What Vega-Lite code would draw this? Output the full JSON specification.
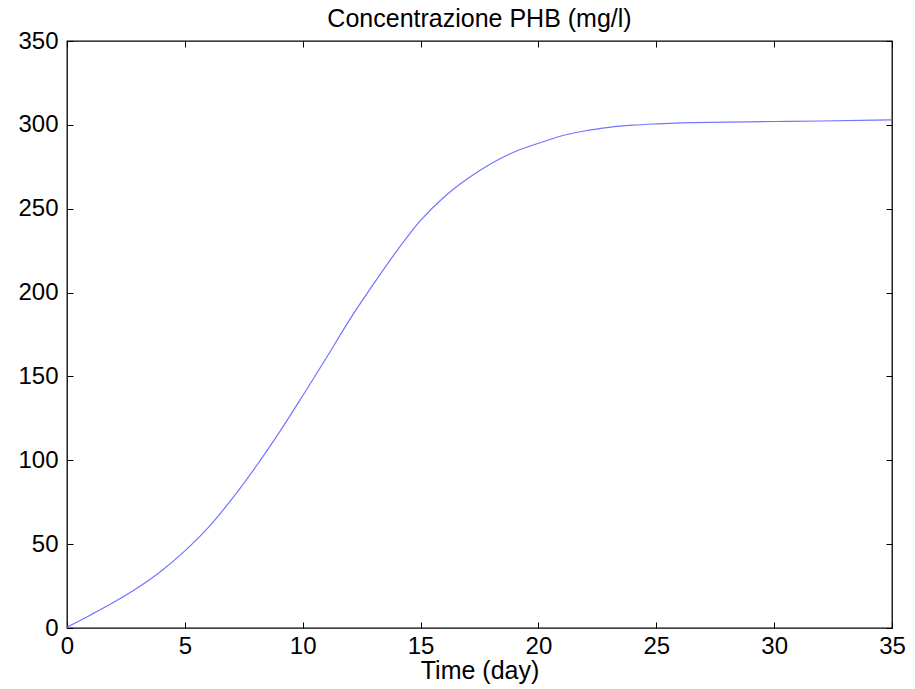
{
  "$schema": "https://vega.github.io/schema/vega-lite/v6.json",
  "width": 825,
  "height": 587,
  "autosize": {"type": "none"},
  "padding": {"left": 67, "top": 41, "right": 23, "bottom": 61},
  "background": "white",
  "title": {"text": "Concentrazione PHB (mg/l)", "font": "Liberation Sans", "fontSize": 25, "fontWeight": "normal", "color": "#000000", "offset": -3},
  "config": {
    "view": {"stroke": "#000000", "strokeWidth": 1.3},
    "axis": {"grid": false, "labelFlush": false, "domainColor": "#000000", "tickColor": "#000000", "labelColor": "#000000", "labelFont": "Liberation Sans", "labelFontSize": 24, "titleFont": "Liberation Sans", "titleFontSize": 25, "titleFontWeight": "normal", "titleColor": "#000000"}
  },
  "data": {"values": [
    {"t": 0, "c": 0.5}, {"t": 1, "c": 7.8}, {"t": 2, "c": 15.5}, {"t": 3, "c": 24}, {"t": 4, "c": 34},
    {"t": 5, "c": 46}, {"t": 6, "c": 60}, {"t": 7, "c": 77}, {"t": 8, "c": 96}, {"t": 9, "c": 116.5},
    {"t": 10, "c": 138.5}, {"t": 11, "c": 161}, {"t": 12, "c": 184}, {"t": 13, "c": 205}, {"t": 14, "c": 225},
    {"t": 15, "c": 243}, {"t": 16, "c": 257}, {"t": 17, "c": 268}, {"t": 18, "c": 277}, {"t": 19, "c": 284},
    {"t": 20, "c": 289}, {"t": 21, "c": 293.5}, {"t": 22, "c": 296.5}, {"t": 23, "c": 298.5}, {"t": 24, "c": 299.8},
    {"t": 25, "c": 300.6}, {"t": 26, "c": 301.2}, {"t": 28, "c": 301.6}, {"t": 30, "c": 302}, {"t": 32, "c": 302.3}, {"t": 35, "c": 303}
  ]},
  "layer": [
    {
      "mark": {"type": "line", "color": "#7474ff", "strokeWidth": 1.2, "interpolate": "monotone"},
      "encoding": {
        "x": {"field": "t", "type": "quantitative", "scale": {"domain": [0, 35], "nice": false}, "axis": {"title": "Time (day)", "values": [0,5,10,15,20,25,30,35], "tickSize": -6, "labelPadding": 12, "titlePadding": 0, "domain": false}},
        "y": {"field": "c", "type": "quantitative", "scale": {"domain": [0, 350], "nice": false}, "axis": {"title": null, "values": [0,50,100,150,200,250,300,350], "tickSize": -6, "labelPadding": 15, "domain": false}}
      }
    },
    {
      "mark": {"type": "line", "opacity": 0},
      "encoding": {
        "x": {"field": "t", "type": "quantitative", "scale": {"domain": [0, 35], "nice": false}, "axis": {"orient": "top", "title": null, "labels": false, "values": [0,5,10,15,20,25,30,35], "tickSize": -6, "domain": false}},
        "y": {"field": "c", "type": "quantitative", "scale": {"domain": [0, 350], "nice": false}, "axis": {"orient": "right", "title": null, "labels": false, "values": [0,50,100,150,200,250,300,350], "tickSize": -6, "domain": false}}
      }
    }
  ],
  "resolve": {"axis": {"x": "independent", "y": "independent"}}
}
